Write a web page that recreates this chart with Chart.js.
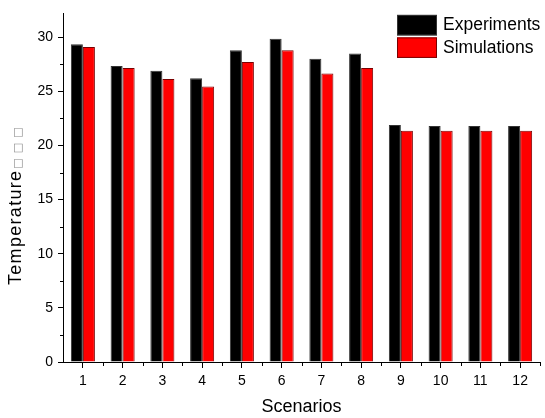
<!DOCTYPE html>
<html>
<head>
<meta charset="utf-8">
<script src="https://cdn.jsdelivr.net/npm/chart.js@4/dist/chart.umd.min.js"></script>
<style>
html,body{margin:0;padding:0;background:#fff;}
#wrap{width:545px;height:418px;}
</style>
</head>
<body>
<div id="wrap"><canvas id="c" width="545" height="418"></canvas></div>
<script>
const scenarios = ['1','2','3','4','5','6','7','8','9','10','11','12'];
const experiments = [29.35, 27.35, 26.9, 26.2, 28.8, 29.85, 28.0, 28.5, 21.9, 21.8, 21.8, 21.8];
const simulations = [29.1, 27.15, 26.15, 25.45, 27.7, 28.8, 26.65, 27.15, 21.35, 21.35, 21.35, 21.35];
const yMajorTicks = [0, 5, 10, 15, 20, 25, 30];
const yMinorTicks = [2.5, 7.5, 12.5, 17.5, 22.5, 27.5];
const yTitle = 'Temperature';
const yTitleMissing = '□□□';

const FONT = "'Liberation Sans', Arial, sans-serif";

const minorTicksPlugin = {
  id: 'minorTicks',
  afterDraw(chart) {
    const ctx = chart.ctx;
    const xs = chart.scales.x, ys = chart.scales.y;
    ctx.save();
    ctx.strokeStyle = '#000';
    ctx.lineWidth = 1;
    ctx.beginPath();
    yMinorTicks.forEach(v => {
      const py = Math.round(ys.getPixelForValue(v)) + 0.5;
      ctx.moveTo(xs.left - 3, py);
      ctx.lineTo(xs.left, py);
    });
    const n = scenarios.length;
    for (let i = 0; i < n; i++) {
      const px = Math.round(xs.getPixelForValue(i + 0.5)) + 0.5;
      ctx.moveTo(px, ys.bottom);
      ctx.lineTo(px, ys.bottom + 4);
    }
    ctx.stroke();
    ctx.restore();
  }
};

const yTitlePlugin = {
  id: 'yTitle',
  afterDraw(chart) {
    const ctx = chart.ctx;
    const ys = chart.scales.y;
    ctx.save();
    ctx.translate(ys.left + 20.5, ys.bottom - 77);
    ctx.rotate(-Math.PI / 2);
    ctx.textAlign = 'left';
    ctx.textBaseline = 'alphabetic';
    ctx.fillStyle = '#000';
    ctx.font = '18px ' + FONT;
    if ('letterSpacing' in ctx) ctx.letterSpacing = '1.3px';
    ctx.fillText(yTitle, 0, 0);
    const w = ctx.measureText(yTitle).width;
    ctx.font = '11px "DejaVu Sans", sans-serif';
    if ('letterSpacing' in ctx) ctx.letterSpacing = '5px';
    ctx.fillStyle = '#8a8a8a';
    ctx.fillText(yTitleMissing, w + 1, 0);
    ctx.restore();
  }
};

const legendPlugin = {
  id: 'customLegend',
  afterDraw(chart) {
    const ctx = chart.ctx;
    const area = chart.chartArea;
    ctx.save();
    const boxW = 40, boxH = 20.5, gap = 2;
    const x0 = area.right - 143;
    let y0 = area.top + 1.5;
    chart.data.datasets.forEach((ds, i) => {
      const y = y0 + i * (boxH + gap);
      ctx.fillStyle = ds.backgroundColor;
      ctx.fillRect(x0, y, boxW, boxH);
      ctx.strokeStyle = ds.borderColor;
      ctx.lineWidth = 1;
      ctx.strokeRect(x0 + 0.5, y + 0.5, boxW - 1, boxH - 1);
      ctx.fillStyle = '#000';
      ctx.font = '17.5px ' + FONT;
      ctx.textBaseline = 'middle';
      ctx.textAlign = 'left';
      ctx.fillText(ds.label, x0 + boxW + 6, y + boxH / 2 + 0.5);
    });
    ctx.restore();
  }
};

new Chart(document.getElementById('c'), {
  type: 'bar',
  data: {
    labels: scenarios,
    datasets: [
      { label: 'Experiments', data: experiments, backgroundColor: '#000000', borderColor: '#333333', borderWidth: 1 },
      { label: 'Simulations', data: simulations, backgroundColor: '#ff0000', borderColor: '#7a0000', borderWidth: 1 }
    ]
  },
  options: {
    responsive: false,
    animation: false,
    devicePixelRatio: 1,
    layout: { padding: { left: 0, top: 8, right: 5, bottom: 0 } },
    datasets: { bar: { categoryPercentage: 0.605, barPercentage: 1.0 } },
    plugins: {
      legend: { display: false },
      tooltip: { enabled: false }
    },
    scales: {
      x: {
        type: 'category',
        offset: true,
        grid: { display: true, drawOnChartArea: false, drawTicks: true, tickLength: 6, color: '#000', offset: false },
        border: { display: true, color: '#000', width: 1 },
        ticks: { color: '#000', font: { family: FONT, size: 14 }, padding: 5, maxRotation: 0 },
        title: { display: true, text: 'Scenarios', color: '#000', font: { family: FONT, size: 18 }, padding: { top: 5, bottom: 0 } },
        afterFit(scale) { scale.height = 56; }
      },
      y: {
        min: 0,
        max: 32.2,
        afterBuildTicks(scale) { scale.ticks = yMajorTicks.map(v => ({ value: v })); },
        grid: { display: true, drawOnChartArea: false, drawTicks: true, tickLength: 5, color: '#000' },
        border: { display: true, color: '#000', width: 1 },
        ticks: { color: '#000', font: { family: FONT, size: 14 }, padding: 5 },
        title: { display: false, text: yTitle + yTitleMissing },
        afterFit(scale) { scale.width = 63; }
      }
    }
  },
  plugins: [minorTicksPlugin, yTitlePlugin, legendPlugin]
});
</script>
</body>
</html>
